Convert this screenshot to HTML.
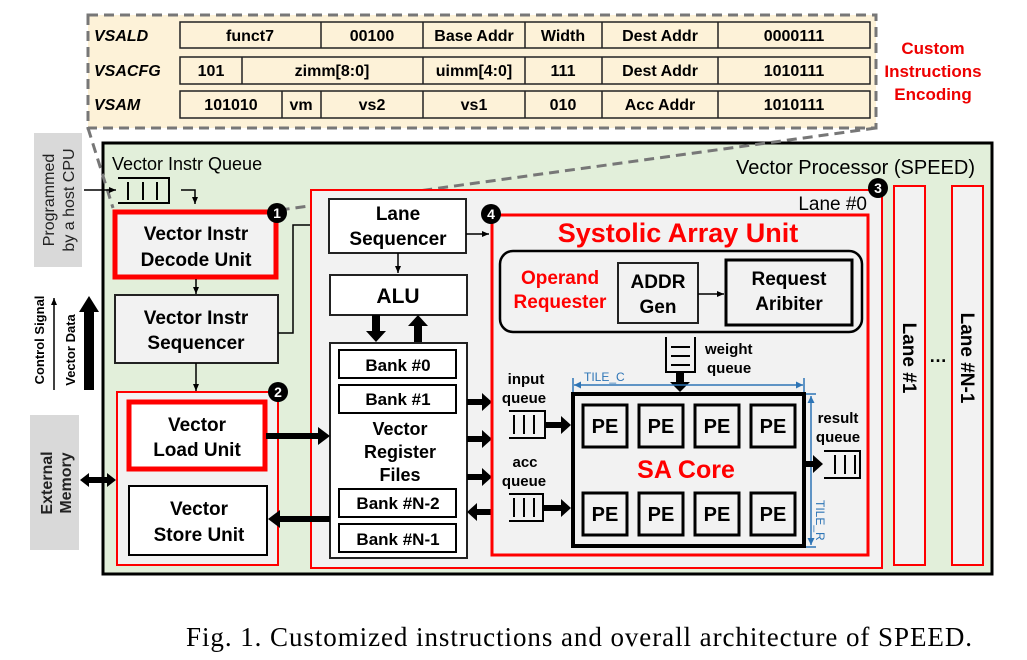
<!DOCTYPE html>
<html><head><meta charset="utf-8"><style>
html,body{margin:0;padding:0;background:#fff;width:1027px;height:660px;overflow:hidden}
svg{display:block}
text{font-family:"Liberation Sans",sans-serif}
.b{font-weight:bold}
</style></head><body>
<svg width="1027" height="660" viewBox="0 0 1027 660" xmlns="http://www.w3.org/2000/svg">
<defs>
<marker id="a" markerWidth="8" markerHeight="8" refX="7" refY="4" orient="auto" markerUnits="userSpaceOnUse"><path d="M0,1 L7,4 L0,7 Z" fill="#000"/></marker>
<marker id="tb" markerWidth="8" markerHeight="8" refX="7" refY="4" orient="auto-start-reverse" markerUnits="userSpaceOnUse"><path d="M0,0.5 L7,4 L0,7.5 Z" fill="#2e75b6"/></marker>
</defs>

<!-- Encoding box -->
<rect x="88" y="15" width="788" height="113" fill="#fdf2d8" stroke="#777" stroke-width="3" stroke-dasharray="10,6"/>
<g font-size="16" text-anchor="middle" class="b">
<g fill="#fdf2d8" stroke="#222" stroke-width="1.5">
<rect x="180" y="22" width="690" height="26"/>
<rect x="180" y="57" width="690" height="27"/>
<rect x="180" y="91" width="690" height="27"/>
</g>
<g stroke="#222" stroke-width="1.5">
<line x1="321" y1="22" x2="321" y2="48"/><line x1="423" y1="22" x2="423" y2="48"/><line x1="525" y1="22" x2="525" y2="48"/><line x1="602" y1="22" x2="602" y2="48"/><line x1="718" y1="22" x2="718" y2="48"/>
<line x1="242" y1="57" x2="242" y2="84"/><line x1="423" y1="57" x2="423" y2="84"/><line x1="525" y1="57" x2="525" y2="84"/><line x1="602" y1="57" x2="602" y2="84"/><line x1="718" y1="57" x2="718" y2="84"/>
<line x1="282" y1="91" x2="282" y2="118"/><line x1="321" y1="91" x2="321" y2="118"/><line x1="423" y1="91" x2="423" y2="118"/><line x1="525" y1="91" x2="525" y2="118"/><line x1="602" y1="91" x2="602" y2="118"/><line x1="718" y1="91" x2="718" y2="118"/>
</g>
<text x="250" y="41">funct7</text><text x="372" y="41">00100</text><text x="474" y="41">Base Addr</text><text x="563" y="41">Width</text><text x="660" y="41">Dest Addr</text><text x="794" y="41">0000111</text>
<text x="211" y="76">101</text><text x="332" y="76">zimm[8:0]</text><text x="474" y="76">uimm[4:0]</text><text x="563" y="76">111</text><text x="660" y="76">Dest Addr</text><text x="794" y="76">1010111</text>
<text x="231" y="110">101010</text><text x="301" y="110">vm</text><text x="372" y="110">vs2</text><text x="474" y="110">vs1</text><text x="563" y="110">010</text><text x="660" y="110">Acc Addr</text><text x="794" y="110">1010111</text>
</g>
<g font-size="16" font-style="italic" class="b">
<text x="94" y="41">VSALD</text><text x="94" y="76">VSACFG</text><text x="94" y="110">VSAM</text>
</g>
<g font-size="17" fill="#e00" class="b" text-anchor="middle">
<text x="933" y="54">Custom</text><text x="933" y="77">Instructions</text><text x="933" y="100">Encoding</text>
</g>

<!-- left labels -->
<rect x="34" y="133" width="48" height="134" fill="#d9d9d9"/>
<g font-size="16" text-anchor="middle" fill="#222">
<text transform="translate(54,200) rotate(-90)">Programmed</text>
<text transform="translate(74,200) rotate(-90)">by a host CPU</text>
</g>
<g font-size="13" text-anchor="middle" class="b">
<text transform="translate(44,340) rotate(-90)">Control Signal</text>
<text transform="translate(75,350) rotate(-90)">Vector Data</text>
</g>
<line x1="54" y1="390" x2="54" y2="298" stroke="#000" stroke-width="1.5" marker-end="url(#a)"/>
<path d="M84,390 L94,390 L94,312 L99,312 L89,296 L79,312 L84,312 Z" fill="#000"/>
<rect x="30" y="415" width="49" height="135" fill="#d9d9d9"/>
<g font-size="16" text-anchor="middle" class="b" fill="#222">
<text transform="translate(52,483) rotate(-90)">External</text>
<text transform="translate(71,483) rotate(-90)">Memory</text>
</g>

<!-- main box -->
<rect x="103" y="143" width="889" height="431" fill="#e2efda" stroke="#000" stroke-width="3"/>
<text x="112" y="170" font-size="18">Vector Instr Queue</text>
<text x="975" y="174" font-size="20" text-anchor="end">Vector Processor (SPEED)</text>

<!-- dashed zoom lines -->
<line x1="88" y1="128" x2="113" y2="208" stroke="#777" stroke-width="3" stroke-dasharray="10,6"/>
<line x1="876" y1="128" x2="280" y2="210" stroke="#777" stroke-width="3" stroke-dasharray="10,6"/>

<!-- queue input -->
<line x1="84" y1="190" x2="116" y2="190" stroke="#000" stroke-width="1.5" marker-end="url(#a)"/>
<g stroke="#000" stroke-width="2" fill="none">
<path d="M118,178 H169 V203 H118"/>
<line x1="128" y1="182" x2="128" y2="200"/><line x1="143" y1="182" x2="143" y2="200"/><line x1="157" y1="182" x2="157" y2="200"/>
</g>
<path d="M181,190 H195 V204" stroke="#000" stroke-width="1.5" fill="none" marker-end="url(#a)"/>

<!-- decode -->
<rect x="115" y="212" width="161" height="65" fill="#f2f2f2" stroke="#f00" stroke-width="5"/>
<g font-size="19" text-anchor="middle" class="b">
<text x="196" y="240">Vector Instr</text><text x="196" y="266">Decode Unit</text>
</g>
<line x1="196" y1="279" x2="196" y2="294" stroke="#000" stroke-width="1.5" marker-end="url(#a)"/>
<rect x="115" y="295" width="163" height="68" fill="#f2f2f2" stroke="#222" stroke-width="2"/>
<g font-size="19" text-anchor="middle" class="b">
<text x="196" y="324">Vector Instr</text><text x="196" y="349">Sequencer</text>
</g>
<path d="M278,333 H293 V225 H311" stroke="#000" stroke-width="1.5" fill="none"/>
<line x1="196" y1="363" x2="196" y2="391" stroke="#000" stroke-width="1.5" marker-end="url(#a)"/>

<!-- box 2 -->
<rect x="117" y="392" width="161" height="173" fill="#f2f2f2" stroke="#f00" stroke-width="2"/>
<rect x="129" y="402" width="136" height="67" fill="#fff" stroke="#f00" stroke-width="5"/>
<g font-size="19" text-anchor="middle" class="b">
<text x="197" y="431">Vector</text><text x="197" y="456">Load Unit</text>
</g>
<rect x="129" y="486" width="138" height="69" fill="#fff" stroke="#000" stroke-width="2"/>
<g font-size="19" text-anchor="middle" class="b">
<text x="199" y="515">Vector</text><text x="199" y="541">Store Unit</text>
</g>
<path d="M80,480 L89,473 L89,477 L107,477 L107,473 L116,480 L107,487 L107,483 L89,483 L89,487 Z" fill="#000"/>

<!-- Lane 0 -->
<rect x="311" y="190" width="571" height="378" fill="#f2f2f2" stroke="#f00" stroke-width="2"/>
<text x="867" y="210" font-size="19" text-anchor="end">Lane #0</text>
<rect x="329" y="199" width="137" height="54" fill="#fff" stroke="#222" stroke-width="2"/>
<g font-size="19" text-anchor="middle" class="b">
<text x="398" y="220">Lane</text><text x="398" y="245">Sequencer</text>
</g>
<line x1="466" y1="234" x2="489" y2="234" stroke="#000" stroke-width="1.5" marker-end="url(#a)"/>
<line x1="398" y1="253" x2="398" y2="273" stroke="#000" stroke-width="1.5" marker-end="url(#a)"/>
<rect x="330" y="275" width="137" height="40" fill="#fff" stroke="#222" stroke-width="2"/>
<text x="398" y="303" font-size="21" text-anchor="middle" class="b">ALU</text>
<path d="M372,315 H380 V331 H386 L376,342 L366,331 H372 Z" fill="#000"/>
<path d="M414,342 H422 V326 H428 L418,315 L408,326 H414 Z" fill="#000"/>
<rect x="330" y="343" width="137" height="215" fill="#fff" stroke="#222" stroke-width="2"/>
<g fill="#fff" stroke="#000" stroke-width="2">
<rect x="339" y="350" width="117" height="28"/><rect x="339" y="385" width="117" height="28"/>
<rect x="339" y="489" width="117" height="28"/><rect x="339" y="524" width="117" height="28"/>
</g>
<g font-size="17" text-anchor="middle" class="b">
<text x="398" y="371">Bank #0</text><text x="398" y="405">Bank #1</text>
<text x="398" y="509">Bank #N-2</text><text x="398" y="545">Bank #N-1</text>
</g>
<g font-size="18" text-anchor="middle" class="b">
<text x="400" y="435">Vector</text><text x="400" y="458">Register</text><text x="400" y="481">Files</text>
</g>
<path d="M266,433 H318 V427 L330,436 L318,445 V439 H266 Z" fill="#000"/>
<path d="M330,516 H280 V510 L268,519 L280,528 V522 H330 Z" fill="#000"/>
<path d="M467,399 H482 V393 L492,402 L482,411 V405 H467 Z" fill="#000"/>
<path d="M467,436 H482 V430 L492,439 L482,448 V442 H467 Z" fill="#000"/>
<path d="M467,474 H482 V468 L492,477 L482,486 V480 H467 Z" fill="#000"/>
<path d="M492,509 H477 V503 L467,512 L477,521 V515 H492 Z" fill="#000"/>

<!-- SAU -->
<rect x="492" y="215" width="376" height="340" fill="#f2f2f2" stroke="#f00" stroke-width="3"/>
<text x="678" y="242" font-size="27" fill="#f00" text-anchor="middle" class="b">Systolic Array Unit</text>
<rect x="500" y="251" width="362" height="81" rx="13" fill="#f2f2f2" stroke="#000" stroke-width="2.5"/>
<g font-size="19" fill="#f00" text-anchor="middle" class="b">
<text x="560" y="284">Operand</text><text x="560" y="308">Requester</text>
</g>
<rect x="618" y="263" width="80" height="60" fill="#f2f2f2" stroke="#222" stroke-width="2"/>
<g font-size="19" text-anchor="middle" class="b">
<text x="658" y="288">ADDR</text><text x="658" y="313">Gen</text>
</g>
<line x1="698" y1="294" x2="724" y2="294" stroke="#000" stroke-width="1.5" marker-end="url(#a)"/>
<rect x="726" y="260" width="126" height="65" fill="#f2f2f2" stroke="#000" stroke-width="3"/>
<g font-size="19" text-anchor="middle" class="b">
<text x="789" y="285">Request</text><text x="789" y="310">Aribiter</text>
</g>

<g stroke="#000" stroke-width="2" fill="none">
<path d="M666,337 V372 H695 V337"/>
<line x1="671" y1="347" x2="690" y2="347"/><line x1="671" y1="356" x2="690" y2="356"/><line x1="671" y1="365" x2="690" y2="365"/>
</g>
<path d="M676,372 H684 V382 H690 L680,392 L670,382 H676 Z" fill="#000"/>
<g font-size="15" class="b"><text x="705" y="354">weight</text><text x="707" y="373">queue</text></g>

<line x1="574" y1="385" x2="803" y2="385" stroke="#2e75b6" stroke-width="1.5" marker-start="url(#tb)" marker-end="url(#tb)"/>
<line x1="573" y1="378" x2="573" y2="392" stroke="#2e75b6" stroke-width="1.5"/>
<line x1="804" y1="378" x2="804" y2="392" stroke="#2e75b6" stroke-width="1.5"/>
<text x="584" y="381" font-size="12" fill="#2e75b6">TILE_C</text>

<rect x="573" y="394" width="231" height="152" fill="#f2f2f2" stroke="#000" stroke-width="4"/>
<g fill="#f2f2f2" stroke="#000" stroke-width="3">
<rect x="583" y="405" width="44" height="42"/><rect x="639" y="405" width="44" height="42"/><rect x="695" y="405" width="44" height="42"/><rect x="751" y="405" width="44" height="42"/>
<rect x="583" y="493" width="44" height="42"/><rect x="639" y="493" width="44" height="42"/><rect x="695" y="493" width="44" height="42"/><rect x="751" y="493" width="44" height="42"/>
</g>
<g font-size="20" text-anchor="middle" class="b">
<text x="605" y="433">PE</text><text x="661" y="433">PE</text><text x="717" y="433">PE</text><text x="773" y="433">PE</text>
<text x="605" y="521">PE</text><text x="661" y="521">PE</text><text x="717" y="521">PE</text><text x="773" y="521">PE</text>
</g>
<text x="686" y="478" font-size="25" fill="#f00" text-anchor="middle" class="b">SA Core</text>

<line x1="811" y1="396" x2="811" y2="545" stroke="#2e75b6" stroke-width="1.5" marker-start="url(#tb)" marker-end="url(#tb)"/>
<line x1="806" y1="394" x2="816" y2="394" stroke="#2e75b6" stroke-width="1.5"/>
<line x1="806" y1="547" x2="816" y2="547" stroke="#2e75b6" stroke-width="1.5"/>
<text transform="translate(816,500) rotate(90)" font-size="12" fill="#2e75b6">TILE_R</text>

<g font-size="15" class="b" text-anchor="middle">
<text x="526" y="384">input</text><text x="524" y="403">queue</text>
<text x="525" y="467">acc</text><text x="524" y="486">queue</text>
<text x="838" y="423">result</text><text x="838" y="442">queue</text>
</g>
<g stroke="#000" stroke-width="2" fill="none">
<path d="M509,411 H545 V438 H509"/><line x1="514" y1="415" x2="514" y2="434"/><line x1="524" y1="415" x2="524" y2="434"/><line x1="534" y1="415" x2="534" y2="434"/>
<path d="M509,494 H543 V521 H509"/><line x1="514" y1="498" x2="514" y2="517"/><line x1="524" y1="498" x2="524" y2="517"/><line x1="534" y1="498" x2="534" y2="517"/>
<path d="M824,451 H860 V478 H824"/><line x1="835" y1="455" x2="835" y2="474"/><line x1="845" y1="455" x2="845" y2="474"/><line x1="855" y1="455" x2="855" y2="474"/>
</g>
<path d="M545,422 H561 V416 L571,425 L561,434 V428 H545 Z" fill="#000"/>
<path d="M543,505 H561 V499 L571,508 L561,517 V511 H543 Z" fill="#000"/>
<path d="M806,461 H813 V455 L823,464 L813,473 V467 H806 Z" fill="#000"/>

<rect x="894" y="186" width="31" height="379" fill="#f2f2f2" stroke="#f00" stroke-width="2"/>
<rect x="952" y="186" width="31" height="379" fill="#f2f2f2" stroke="#f00" stroke-width="2"/>
<g font-size="19" class="b" text-anchor="middle">
<text transform="translate(903,358) rotate(90)">Lane #1</text>
<text transform="translate(961,358) rotate(90)">Lane #N-1</text>
</g>
<text x="938" y="362" font-size="18" text-anchor="middle" class="b">…</text>

<g fill="#000"><circle cx="277" cy="213" r="10"/><circle cx="278" cy="392" r="10"/><circle cx="878" cy="188" r="10"/><circle cx="491" cy="214" r="10"/></g>
<g fill="#fff" font-size="14" class="b" text-anchor="middle">
<text x="277" y="218">1</text><text x="278" y="397">2</text><text x="878" y="193">3</text><text x="491" y="219">4</text>
</g>

<text x="186" y="646" font-size="27" textLength="786" lengthAdjust="spacing" style="font-family:'Liberation Serif',serif">Fig. 1.  Customized instructions and overall architecture of SPEED.</text>
</svg>
</body></html>
